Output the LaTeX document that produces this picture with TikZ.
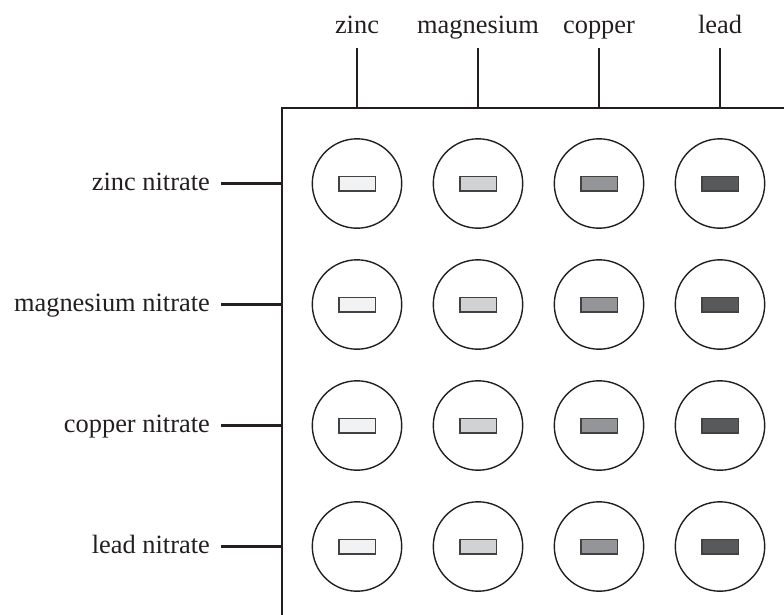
\documentclass[tikz,border=0pt]{standalone}
\usepackage{fontspec}
\setmainfont{Liberation Serif}
\definecolor{ink}{HTML}{231F20}
\definecolor{chipA}{HTML}{F1F2F3}
\definecolor{chipB}{HTML}{D1D2D4}
\definecolor{chipC}{HTML}{939598}
\definecolor{chipD}{HTML}{58595B}
\begin{document}
\begin{tikzpicture}[x=1pt,y=-1pt,
  lbl/.style={font=\fontsize{26.4}{30}\selectfont, inner sep=0pt, text=ink},
  conn/.style={line width=2.1pt, draw=ink},
  plate/.style={line width=1.5pt, draw=ink},
  well/.style={circle, draw=ink, line width=1.4pt, minimum size=89.4pt, inner sep=0pt},
  chip/.style={draw=ink!85, line width=1.5pt, minimum width=36.5pt, minimum height=14.5pt, inner sep=0pt}]
\useasboundingbox (0,0) rectangle (784,615);
\clip (0,0) rectangle (784,615);

% spotting plate outline (runs off the right and bottom edges)
\draw[plate] (800,108) -- (282,108) -- (282,640);

% metals along the top
\foreach \i/\x/\name in {1/357/zinc, 2/478/magnesium, 3/599/copper, 4/720/lead}{
  \node[lbl, anchor=base] (metal\i) at (\x,34) {\name};
  \coordinate (top\i) at (\x,108);
  \draw[conn] (top\i |- 0,48) -- (top\i);
}

% nitrate solutions down the left side
\foreach \j/\y/\name in {1/183.5/zinc nitrate, 2/304.5/magnesium nitrate, 3/425.5/copper nitrate, 4/546.5/lead nitrate}{
  \coordinate (side\j) at (282,\y);
  \node[lbl, anchor=base east] (salt\j) at (210,\y+7.2) {\name};
  \draw[conn] ([xshift=11pt]salt\j.east |- side\j) -- (side\j);
}

% wells with a metal strip in each
\foreach \j/\y in {1/183.5, 2/304.5, 3/425.5, 4/546.5}{
  \foreach \i/\x/\c in {1/357/chipA, 2/478/chipB, 3/599/chipC, 4/720/chipD}{
    \node[well] (well\j\i) at (\x,\y) {};
    \node[chip, fill=\c] (strip\j\i) at (well\j\i.center) {};
  }
}
\end{tikzpicture}
\end{document}
